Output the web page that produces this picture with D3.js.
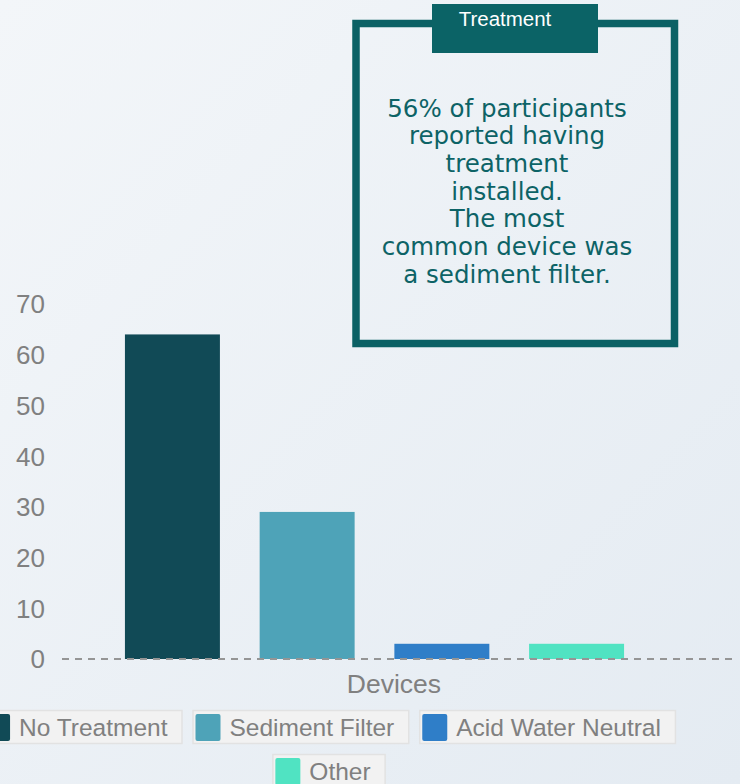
<!DOCTYPE html>
<html><head><meta charset="utf-8">
<script src="https://cdn.jsdelivr.net/npm/d3@7"></script>
<style>html,body{margin:0;padding:0;overflow:hidden;}</style>
</head><body>
<svg id="c" width="740" height="784"></svg>
<script>
const categories = ["No Treatment", "Sediment Filter", "Acid Water Neutral", "Other"];
const values = [64, 29, 3, 3];
const colors = ["#114a56", "#4ea3b8", "#2f7ec8", "#50e3c2"];
const yTicks = [0, 10, 20, 30, 40, 50, 60, 70];
const axisTitle = "Devices";
const noteTitle = "Treatment";
const noteLines = ["56% of participants", "reported having", "treatment", "installed.", "The most", "common device was", "a sediment filter."];

const svg = d3.select("#c");
const defs = svg.append("defs");
const g = defs.append("linearGradient").attr("id","bg").attr("x1","0").attr("y1","0").attr("x2","1").attr("y2","1");
g.append("stop").attr("offset","0").attr("stop-color","#f3f6f9");
g.append("stop").attr("offset","1").attr("stop-color","#e4ebf2");
svg.append("rect").attr("width",740).attr("height",784).attr("fill","url(#bg)");

const x = d3.scaleBand().domain(categories).range([105, 644]).paddingInner(0.295).paddingOuter(0.148);
const y = d3.scaleLinear().domain([0, 70]).range([659, 304]);

// y tick labels
svg.append("g").selectAll("text").data(yTicks).join("text")
  .attr("x", 45).attr("y", d => y(d)).attr("dy", "0.36em")
  .attr("text-anchor", "end")
  .attr("font-family", "Liberation Sans, Arial, sans-serif").attr("font-size", 26)
  .attr("fill", "#808080").text(d => d);

// bars
svg.append("g").selectAll("rect").data(values).join("rect")
  .attr("x", (d, i) => x(categories[i])).attr("width", x.bandwidth())
  .attr("y", d => y(d)).attr("height", d => y(0) - y(d))
  .attr("fill", (d, i) => colors[i]);

// dashed baseline
svg.append("line").attr("x1", 62).attr("x2", 738).attr("y1", y(0)).attr("y2", y(0))
  .attr("stroke", "#959595").attr("stroke-width", 2).attr("stroke-dasharray", "7,6");

// axis title
svg.append("text").attr("x", 394).attr("y", 693).attr("text-anchor", "middle")
  .attr("font-family", "Liberation Sans, Arial, sans-serif").attr("font-size", 26.5)
  .attr("fill", "#808080").text(axisTitle);

// legend
const legFont = 24.5;
const leg = svg.append("g");
const tmp = svg.append("text").attr("font-family","Liberation Sans, Arial, sans-serif").attr("font-size",legFont);
const widths = categories.map(c => { tmp.text(c); return tmp.node().getComputedTextLength() + 52; });
tmp.remove();
const rows = [[0,1,2],[3]];
const rowY = [710, 754];
const cx = 329, gap = 10;
rows.forEach((r, ri) => {
  const total = d3.sum(r, i => widths[i]) + gap * (r.length - 1);
  let xx = cx - total / 2;
  r.forEach(i => {
    const it = leg.append("g").attr("transform", `translate(${xx},${rowY[ri]})`);
    it.append("rect").attr("x",0.5).attr("y",0.5).attr("width", widths[i]-1).attr("height", 33)
      .attr("fill", "#f2f2f2").attr("stroke", "#e2e2e2").attr("stroke-width", 1.5);
    it.append("rect").attr("x", 3).attr("y", 4).attr("width", 25).attr("height", 27).attr("rx", 2)
      .attr("fill", colors[i]);
    it.append("text").attr("x", 37).attr("y", 17).attr("dy", "0.36em")
      .attr("font-family", "Liberation Sans, Arial, sans-serif").attr("font-size", legFont)
      .attr("fill", "#808080").text(categories[i]);
    xx += widths[i] + gap;
  });
});

// annotation box
const ann = svg.append("g");
ann.append("rect").attr("x", 356).attr("y", 23.5).attr("width", 318.5).attr("height", 320)
  .attr("fill", "none").attr("stroke", "#0b6165").attr("stroke-width", 7.5);
ann.append("rect").attr("x", 432).attr("y", 4).attr("width", 166).attr("height", 49).attr("fill", "#0b6366");
ann.append("text").attr("x", 505).attr("y", 26).attr("text-anchor", "middle")
  .attr("font-family", "Liberation Sans, Arial, sans-serif").attr("font-size", 20.5)
  .attr("fill", "#ffffff").text(noteTitle);
ann.append("g").selectAll("text").data(noteLines).join("text")
  .attr("x", 507).attr("y", (d, i) => 116.5 + i * 27.7).attr("text-anchor", "middle")
  .attr("font-family", "DejaVu Sans, sans-serif").attr("font-size", 24.5)
  .attr("fill", "#0d6366").text(d => d);
</script>
</body></html>
